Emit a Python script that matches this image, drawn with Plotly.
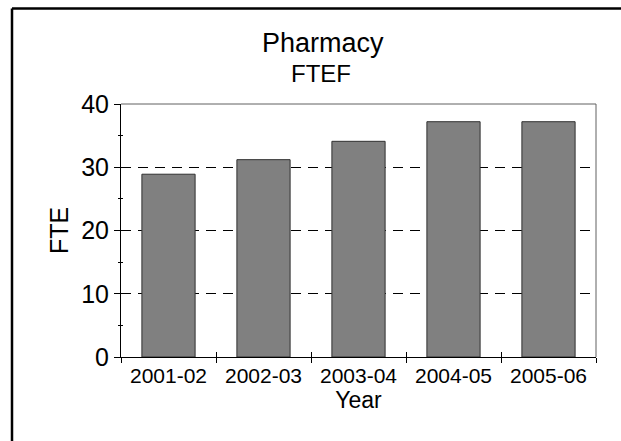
import plotly.graph_objects as go

# Pharmacy full-time-equivalent faculty by academic year
years = ["2001-02", "2002-03", "2003-04", "2004-05", "2005-06"]
fte = [28.9, 31.2, 34.1, 37.2, 37.2]
y_ticks = [0, 10, 20, 30, 40]
grid_vals = [10, 20, 30]

W, H = 621, 441
L, R, T, B = 121, 25, 104, 84
PW, PH = W - L - R, H - T - B
FONT = "Liberation Sans, Arial, sans-serif"


def px_x(p):
    return (p - L) / PW


def px_y(p):
    return (H - B - p) / PH


fig = go.Figure()
fig.add_trace(go.Bar(
    x=years, y=fte,
    marker=dict(color="#808080", line=dict(color="#303030", width=1)),
    hoverinfo="x+y",
))
# invisible helpers so the overlay axes are drawn
fig.add_trace(go.Scatter(x=[years[0]], y=[0], yaxis="y2", mode="markers",
                         marker=dict(opacity=0), hoverinfo="skip", showlegend=False))
fig.add_trace(go.Scatter(x=[years[0]], y=[0], yaxis="y3", mode="markers",
                         marker=dict(opacity=0), hoverinfo="skip", showlegend=False))
fig.add_trace(go.Scatter(x=[years[0]], y=[0], xaxis="x2", mode="markers",
                         marker=dict(opacity=0), hoverinfo="skip", showlegend=False))

yrange = [0, 40]
xrange_ = [-0.5, len(years) - 0.5]

fig.update_layout(
    width=W, height=H,
    margin=dict(l=L, r=R, t=T, b=B, pad=0),
    paper_bgcolor="white", plot_bgcolor="white",
    font=dict(family=FONT, color="black"),
    bargap=0.44,
    showlegend=False,
    xaxis=dict(
        type="category", categoryarray=years, range=xrange_,
        tickson="boundaries", ticks="outside", ticklen=5, tickwidth=1,
        tickcolor="black", showline=True, linecolor="black", linewidth=1,
        showgrid=False, tickfont=dict(size=21, family=FONT),
        title=dict(text="Year", font=dict(size=23, family=FONT), standoff=2),
    ),
    xaxis2=dict(
        type="category", categoryarray=years, range=xrange_,
        overlaying="x", anchor="y", side="bottom",
        tickson="boundaries", ticks="inside", ticklen=5, tickwidth=1,
        tickcolor="black", showticklabels=False, showline=False, showgrid=False,
    ),
    yaxis=dict(
        range=yrange, tickvals=y_ticks, ticks="outside", ticklen=6, tickwidth=1,
        tickcolor="black", showline=True, linecolor="black", linewidth=1,
        showgrid=False, zeroline=False, tickfont=dict(size=25, family=FONT),
        minor=dict(dtick=5, ticks="outside", ticklen=2, tickcolor="black", showgrid=False),
        title=dict(text="FTE", font=dict(size=25, family=FONT), standoff=5),
    ),
    yaxis2=dict(
        range=yrange, tickvals=y_ticks, overlaying="y", anchor="x", side="left",
        ticks="inside", ticklen=6, tickwidth=1, tickcolor="black",
        showticklabels=False, showline=False, showgrid=False, zeroline=False,
        minor=dict(dtick=5, ticks="inside", ticklen=2, tickcolor="black", showgrid=False),
    ),
    yaxis3=dict(
        range=yrange, tickvals=grid_vals, overlaying="y", anchor="x", side="left",
        ticks="", showticklabels=False, showline=False, zeroline=False,
        showgrid=True, gridcolor="black", gridwidth=1, griddash="10px,7px",
    ),
)

# gray top and right edges of the plot frame
fig.add_shape(type="line", xref="paper", yref="paper", x0=0, x1=1, y0=1, y1=1,
              line=dict(color="#606060", width=1), layer="above")
fig.add_shape(type="line", xref="paper", yref="paper", x0=1, x1=1, y0=0, y1=1,
              line=dict(color="#606060", width=1), layer="above")
# outer border (left and top edges)
fig.add_shape(type="line", xref="paper", yref="paper",
              x0=px_x(12), x1=px_x(W + 5), y0=px_y(8.5), y1=px_y(8.5),
              line=dict(color="black", width=2.5), layer="above")
fig.add_shape(type="line", xref="paper", yref="paper",
              x0=px_x(12), x1=px_x(12), y0=px_y(8.5), y1=px_y(H + 5),
              line=dict(color="black", width=2.5), layer="above")

# two-line chart title
fig.add_annotation(text="Pharmacy", xref="paper", yref="paper",
                   x=px_x(323), y=px_y(43), xanchor="center", yanchor="middle",
                   showarrow=False, font=dict(size=27, family=FONT, color="black"))
fig.add_annotation(text="FTEF", xref="paper", yref="paper",
                   x=px_x(321), y=px_y(73), xanchor="center", yanchor="middle",
                   showarrow=False, font=dict(size=24, family=FONT, color="black"))

fig.write_html("out.html")
